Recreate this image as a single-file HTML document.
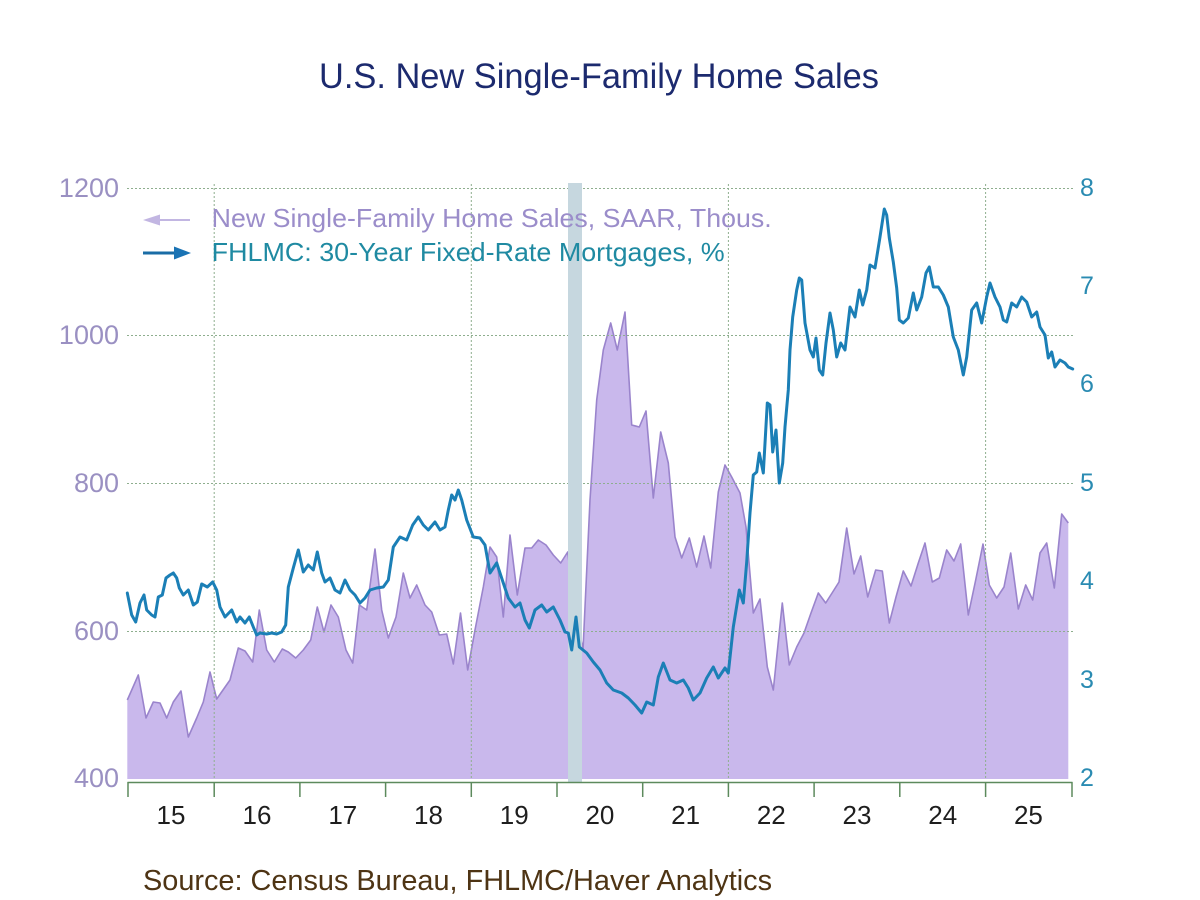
<!DOCTYPE html>
<html>
<head>
<meta charset="utf-8">
<style>
html,body{margin:0;padding:0;background:#ffffff;}
svg{display:block;}
</style>
</head>
<body>
<svg width="1200" height="900" viewBox="0 0 1200 900" xmlns="http://www.w3.org/2000/svg">
<rect x="0" y="0" width="1200" height="900" fill="#ffffff"/>

<!-- Title -->
<text x="319" y="88" font-family="Liberation Sans, Arial, sans-serif" font-size="35" fill="#1c2a6e" textLength="560" lengthAdjust="spacingAndGlyphs">U.S. New Single-Family Home Sales</text>

<!-- Area fill -->
<polygon fill="#c9b8ec" stroke="none" points="127.3,779 127.3,700 138.3,675 146,718 153.3,702 160,703 166.7,718 173.3,702 181,691 188.3,737 196.7,718 203.3,702 210,672 216.7,699 223,690 230,680 238.3,648 245,651 252.7,662 259.3,610 266.7,650 274.3,662 282.3,649 288.3,652 295.7,658 303.3,650 310.7,640 317.3,607 324,632 331,605 338.3,617 346,650 352.7,663 359.3,605 366.7,610 375,549 381.7,610 388.3,638 396,617 403.3,573 410,598 416.7,585 425,605 431.7,612 439.3,635 446.7,634 453.3,664 460.5,613 467.7,670 475,630 483.3,587 490,547 496.7,557 503.3,617 510,535 517.3,595 525,548 531.7,548 538.3,540 546,545 553.3,555 560.7,563 567.7,552 575,610 583,650 590,500 596.7,400 603.3,350 610.7,323 617.3,350 625,312 631.7,425 639.3,427 646,411 653.3,498 660.7,432 668.3,463 675,537 681.7,558 689.3,538 696.7,567 704,536 710.7,568 718.3,492 725,465 731.7,477 740,493 746,527 753.3,613 760,599 767.3,667 773.3,690 782.3,603 789.3,665 796.7,647 804,633 811,613 818.3,593 825.7,603 832.7,592 839,582 846.7,528 854,574 860.7,556 867.7,597 875.7,570 882.3,571 889.3,623 896,597 903.3,571 911,586 918.3,563 925,543 932.3,582 939.3,578 946.7,550 954,561 960.7,544 968.3,615 975.7,580 983,544 989.3,585 996.7,598 1004,587 1010.7,553 1018.3,609 1025.7,585 1032.7,600 1040,553 1046.7,543 1054.3,588 1061.7,514 1068.3,523 1068.3,779"/>
<polyline fill="none" stroke="#9a84cc" stroke-width="1.6" stroke-linejoin="round" points="127.3,700 138.3,675 146,718 153.3,702 160,703 166.7,718 173.3,702 181,691 188.3,737 196.7,718 203.3,702 210,672 216.7,699 223,690 230,680 238.3,648 245,651 252.7,662 259.3,610 266.7,650 274.3,662 282.3,649 288.3,652 295.7,658 303.3,650 310.7,640 317.3,607 324,632 331,605 338.3,617 346,650 352.7,663 359.3,605 366.7,610 375,549 381.7,610 388.3,638 396,617 403.3,573 410,598 416.7,585 425,605 431.7,612 439.3,635 446.7,634 453.3,664 460.5,613 467.7,670 475,630 483.3,587 490,547 496.7,557 503.3,617 510,535 517.3,595 525,548 531.7,548 538.3,540 546,545 553.3,555 560.7,563 567.7,552 575,610 583,650 590,500 596.7,400 603.3,350 610.7,323 617.3,350 625,312 631.7,425 639.3,427 646,411 653.3,498 660.7,432 668.3,463 675,537 681.7,558 689.3,538 696.7,567 704,536 710.7,568 718.3,492 725,465 731.7,477 740,493 746,527 753.3,613 760,599 767.3,667 773.3,690 782.3,603 789.3,665 796.7,647 804,633 811,613 818.3,593 825.7,603 832.7,592 839,582 846.7,528 854,574 860.7,556 867.7,597 875.7,570 882.3,571 889.3,623 896,597 903.3,571 911,586 918.3,563 925,543 932.3,582 939.3,578 946.7,550 954,561 960.7,544 968.3,615 975.7,580 983,544 989.3,585 996.7,598 1004,587 1010.7,553 1018.3,609 1025.7,585 1032.7,600 1040,553 1046.7,543 1054.3,588 1061.7,514 1068.3,523"/>

<!-- Gridlines -->
<g stroke="#8eae8e" stroke-width="1" stroke-dasharray="2,2" fill="none">
  <line x1="127" y1="188.5" x2="1073" y2="188.5"/>
  <line x1="127" y1="335.5" x2="1073" y2="335.5"/>
  <line x1="127" y1="483.5" x2="1073" y2="483.5"/>
  <line x1="127" y1="631.5" x2="1073" y2="631.5"/>
  <line x1="214.2" y1="184" x2="214.2" y2="779"/>
  <line x1="471.3" y1="184" x2="471.3" y2="779"/>
  <line x1="728.4" y1="184" x2="728.4" y2="779"/>
  <line x1="985.6" y1="184" x2="985.6" y2="779"/>
</g>

<!-- Recession band -->
<rect x="568" y="183" width="14" height="600" fill="#c6d7df"/>

<!-- Mortgage rate line -->
<polyline fill="none" stroke="#1b7fb6" stroke-width="3" stroke-linejoin="round" stroke-linecap="round" points="127.3,593 131.7,615 135.7,622 140,603 144,595 146.7,610 151.7,615 155,617 158.3,597 162.3,595 166,578 170,575 173.3,573 176.7,578 179.3,588 183.3,595 188.3,590 193.3,605 197.3,602 201.7,584 207.3,587 212.7,582 216.7,590 220,607 225,617 231.7,610 236.7,622 240,617 245,623 249.3,617 253.3,627 256.7,635 260,633 266.7,634 271.7,633 276.7,634 281.7,632 285.7,625 288.3,587 293.3,568 298.3,550 303.3,572 308.3,565 313.3,570 317.3,552 321.7,573 325,582 330,578 335,590 340,593 345,580 350,590 355,595 360,603 365,598 370,590 376.7,588 383.3,587 388.3,580 393.3,547 400,537 406.7,540 412.7,525 418.3,517 423.3,525 428.3,530 435,522 440,530 445,527 448.3,510 451.7,495 455,500 458.3,490 461.7,500 466.7,520 473.3,537 480,538 485,545 490,573 496.7,563 503.3,583 508.3,598 515,607 520,603 525,620 529.3,628 535,610 541.7,605 546.7,612 553.3,607 560,620 565,632 568.3,633 571.7,650 576,617 579.3,647 586.7,653 593.3,662 600,670 606.7,683 613.3,690 621.7,693 628.3,698 635,705 641.7,713 646.7,702 653.3,705 658.3,677 663.3,663 670,680 676.7,683 683.3,680 688.3,688 693.3,700 700,693 706.7,678 713.3,667 718.3,678 725,668 728.3,673 733.3,627 739.3,590 743.3,603 746.7,562 750,513 753.3,475 756.7,472 759.3,453 763.3,473 767.3,403 770,405 772.7,452 776,430 779.3,483 782.7,463 785,427 788.3,390 790,350 792.7,317 796.7,290 799.3,278 801.7,280 805,323 810,350 813.3,357 816,338 819.3,370 822.7,375 826,343 830,313 833.3,330 836.7,357 840.7,343 845,350 850,307 855,317 859.3,290 862.7,305 866.7,290 870,265 875,268 880,237 884.3,209 886.7,215 889.3,238 893.3,262 896.7,288 899.3,320 903.3,323 908.3,318 913.3,293 916.7,310 921.7,297 926,273 929.3,267 933.3,287 938.3,287 943.3,295 948.3,307 953.3,337 958.3,350 963.3,375 966.7,357 971.7,310 976.7,303 981.7,323 986.7,297 990,283 995,297 1000,307 1003.3,320 1006.7,322 1011.7,303 1016.7,307 1021.7,297 1026.7,302 1031.7,317 1036.7,312 1040,327 1045,335 1048.3,358 1051.7,352 1055,367 1060,360 1065,363 1068.3,367 1072.7,369"/>

<!-- X axis -->
<g stroke="#5d8a5d" stroke-width="1.5" fill="none">
  <line x1="127.5" y1="782.5" x2="1072.5" y2="782.5"/>
  <line x1="128" y1="782" x2="128" y2="797"/>
  <line x1="214.2" y1="782" x2="214.2" y2="797"/>
  <line x1="299.9" y1="782" x2="299.9" y2="797"/>
  <line x1="385.6" y1="782" x2="385.6" y2="797"/>
  <line x1="471.3" y1="782" x2="471.3" y2="797"/>
  <line x1="557" y1="782" x2="557" y2="797"/>
  <line x1="642.7" y1="782" x2="642.7" y2="797"/>
  <line x1="728.4" y1="782" x2="728.4" y2="797"/>
  <line x1="814.1" y1="782" x2="814.1" y2="797"/>
  <line x1="899.8" y1="782" x2="899.8" y2="797"/>
  <line x1="985.6" y1="782" x2="985.6" y2="797"/>
  <line x1="1072" y1="782" x2="1072" y2="797"/>
</g>

<!-- Year labels -->
<g font-family="Liberation Sans, Arial, sans-serif" font-size="26" fill="#1e1e1e" text-anchor="middle">
  <text x="171" y="824">15</text>
  <text x="257" y="824">16</text>
  <text x="342.8" y="824">17</text>
  <text x="428.5" y="824">18</text>
  <text x="514.2" y="824">19</text>
  <text x="599.9" y="824">20</text>
  <text x="685.6" y="824">21</text>
  <text x="771.3" y="824">22</text>
  <text x="857" y="824">23</text>
  <text x="942.7" y="824">24</text>
  <text x="1028.4" y="824">25</text>
</g>

<!-- Left axis labels -->
<g font-family="Liberation Sans, Arial, sans-serif" font-size="27" fill="#9a90c2" text-anchor="end">
  <text x="119" y="197">1200</text>
  <text x="119" y="344">1000</text>
  <text x="119" y="492">800</text>
  <text x="119" y="640">600</text>
  <text x="119" y="787">400</text>
</g>

<!-- Right axis labels -->
<g font-family="Liberation Sans, Arial, sans-serif" font-size="25" fill="#2a8bb2" text-anchor="start">
  <text x="1080" y="196">8</text>
  <text x="1080" y="294">7</text>
  <text x="1080" y="392">6</text>
  <text x="1080" y="491">5</text>
  <text x="1080" y="589">4</text>
  <text x="1080" y="688">3</text>
  <text x="1080" y="786">2</text>
</g>

<!-- Legend -->
<line x1="158" y1="220" x2="190" y2="220" stroke="#c2b6e2" stroke-width="2"/>
<polygon points="143,220 160,214.5 160,225.5" fill="#c2b6e2"/>
<line x1="143" y1="253" x2="177" y2="253" stroke="#1a6ca6" stroke-width="3"/>
<polygon points="191,253 174,246.5 174,259.5" fill="#1a73b4"/>
<text x="211.7" y="227" font-family="Liberation Sans, Arial, sans-serif" font-size="26" fill="#9b8dca" textLength="560" lengthAdjust="spacingAndGlyphs">New Single-Family Home Sales, SAAR, Thous.</text>
<text x="211.7" y="261" font-family="Liberation Sans, Arial, sans-serif" font-size="26" fill="#1f8aa2" textLength="513" lengthAdjust="spacingAndGlyphs">FHLMC: 30-Year Fixed-Rate Mortgages, %</text>

<!-- Source -->
<text x="143" y="890" font-family="Liberation Sans, Arial, sans-serif" font-size="29" fill="#4e3414" textLength="629" lengthAdjust="spacingAndGlyphs">Source: Census Bureau, FHLMC/Haver Analytics</text>
</svg>
</body>
</html>
